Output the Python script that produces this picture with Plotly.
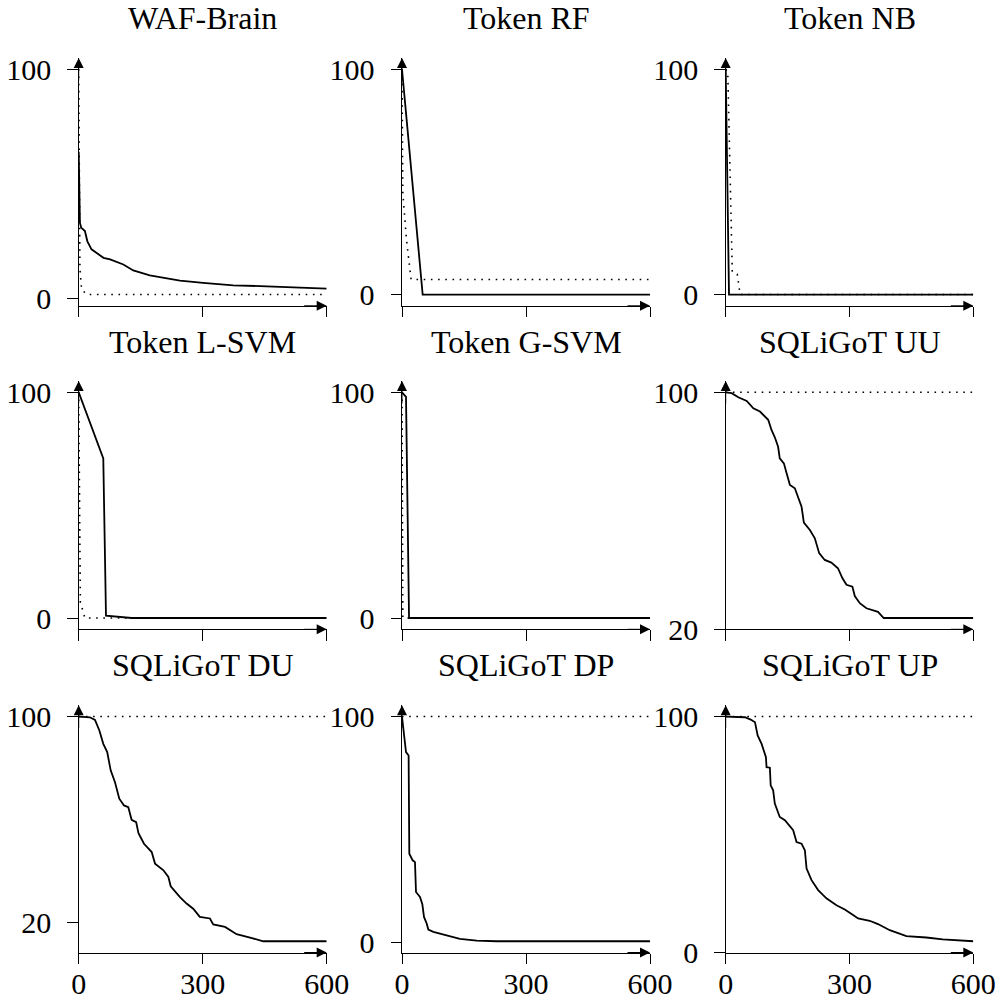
import plotly.graph_objects as go

# ---------------- data ----------------
TITLES = ["WAF-Brain", "Token RF", "Token NB",
          "Token L-SVM", "Token G-SVM", "SQLiGoT UU",
          "SQLiGoT DU", "SQLiGoT DP", "SQLiGoT UP"]

X_TICKS = [0, 300, 600]
X_TICK_TEXT = ["0", "300", "600"]

WAF_SOLID_X = [0, 1, 3, 6, 15, 21, 31, 60, 76, 108, 132, 172, 245, 301, 374, 455, 600]
WAF_SOLID_Y = [64, 42, 33, 31, 29.5, 25, 21.5, 17.8, 17.1, 14.9, 12.3, 10.2, 7.9, 6.9, 5.8, 5.4, 4.4]
WAF_DOT_X = [0, 1, 3, 7, 20, 600]
WAF_DOT_Y = [100, 50, 13, 4, 1.8, 1.8]

RF_SOLID_X = [0, 50, 600]
RF_SOLID_Y = [100, 0, 0]
RF_DOT_X = [0, 2, 11, 22, 600]
RF_DOT_Y = [100, 45, 24, 6.7, 6.7]

NB_SOLID_X = [0, 8, 600]
NB_SOLID_Y = [100, 0, 0]
NB_DOT_X = [0, 5, 16, 28, 35, 600]
NB_DOT_Y = [100, 99, 10, 9, 0, 0]

LSVM_SOLID_X = [0, 59.5, 66, 128, 600]
LSVM_SOLID_Y = [100, 70.7, 1.0, 0, 0]
LSVM_DOT_X = [0, 2, 4, 15, 600]
LSVM_DOT_Y = [100, 20, 7, 0, 0]

GSVM_SOLID_X = [0, 9.7, 17, 600]
GSVM_SOLID_Y = [100, 98, 0, 0]
GSVM_DOT_X = [0, 2, 600]
GSVM_DOT_Y = [100, 0, 0]

UU_SOLID_X = [0, 14.5, 30.5, 51, 67, 83, 103, 111, 119, 127, 131, 141, 147.6, 155.6, 167.6,
              175.6, 183.8, 189.4, 204, 216, 226.5, 240, 256, 272, 283, 292.7, 307, 312.8,
              325, 341, 357, 369, 383, 600]
UU_SOLID_Y = [100, 99.7, 98.3, 97.1, 94.6, 93.5, 90.7, 87.3, 84.8, 81.6, 77.7, 76.0, 72.7, 68.7, 67.6,
              64.8, 61.4, 56.0, 53.5, 50.7, 45.7, 43.4, 42.5, 40.6, 37.2, 35.0, 34.4, 31.2,
              28.8, 27.1, 26.5, 25.9, 23.8, 23.8]
UU_DOT_X = [0, 600]
UU_DOT_Y = [100, 100]

DU_SOLID_X = [0, 27, 39.4, 50, 59.5, 69, 77.4, 87.8, 98.2, 109.6, 120, 128, 139, 144.6, 158,
              176.6, 184.7, 205, 217, 222.6, 245, 261, 277, 293, 317.5, 325.5, 354, 382,
              414.5, 446.6, 600]
DU_SOLID_Y = [100, 99.7, 98.7, 94.6, 89.4, 86.2, 79.1, 74.5, 68.1, 65.5, 64.8, 59.9, 59.0, 54.7, 50.6,
              47.4, 42.9, 40.3, 37.7, 34.1, 29.9, 27.4, 25.4, 22.2, 21.6, 19.3, 18.3, 15.5,
              14.2, 12.75, 12.75]
DU_DOT_X = [0, 600]
DU_DOT_Y = [100, 100]

DP_SOLID_X = [0, 4.8, 9.7, 16, 17.7, 25.8, 31.4, 33.9, 43.5, 49.2, 53.2, 59.7, 63.7, 75.8,
              92, 112, 140, 180.7, 229, 600]
DP_SOLID_Y = [100, 92.4, 84.3, 82.8, 39.4, 36.5, 35.7, 22.5, 20.3, 17.1, 11.5, 8.6, 5.9, 4.9,
              4.1, 3.0, 1.8, 1.05, 0.75, 0.75]
DP_DOT_X = [0, 600]
DP_DOT_Y = [100, 100]

UP_SOLID_X = [0, 46.7, 60.5, 71, 77.4, 87, 97.5, 99, 107, 109, 115, 119, 131, 143.4, 163.5,
              171.7, 183.8, 191.8, 196, 208, 224, 244, 268.5, 288.6, 308.7, 320.8, 349,
              369, 397.6, 417.7, 437.8, 486, 526, 600]
UP_SOLID_Y = [100, 99.7, 98.7, 97.6, 92, 88.4, 82.8, 78.5, 78.3, 70.8, 68.7, 63.1, 57.4, 56.0, 51.8,
              46.8, 46.1, 43.3, 35.5, 30.6, 26.4, 22.9, 20.0, 18.2, 15.8, 14.4, 13.4,
              12.0, 9.4, 8.0, 6.9, 6.3, 5.5, 4.7]
UP_DOT_X = [0, 600]
UP_DOT_Y = [100, 100]

Y_TICKS = [[0, 100], [0, 100], [0, 100],
           [0, 100], [0, 100], [20, 100],
           [20, 100], [0, 100], [0, 100]]

SERIES = [
    (WAF_SOLID_X, WAF_SOLID_Y, WAF_DOT_X, WAF_DOT_Y),
    (RF_SOLID_X, RF_SOLID_Y, RF_DOT_X, RF_DOT_Y),
    (NB_SOLID_X, NB_SOLID_Y, NB_DOT_X, NB_DOT_Y),
    (LSVM_SOLID_X, LSVM_SOLID_Y, LSVM_DOT_X, LSVM_DOT_Y),
    (GSVM_SOLID_X, GSVM_SOLID_Y, GSVM_DOT_X, GSVM_DOT_Y),
    (UU_SOLID_X, UU_SOLID_Y, UU_DOT_X, UU_DOT_Y),
    (DU_SOLID_X, DU_SOLID_Y, DU_DOT_X, DU_DOT_Y),
    (DP_SOLID_X, DP_SOLID_Y, DP_DOT_X, DP_DOT_Y),
    (UP_SOLID_X, UP_SOLID_Y, UP_DOT_X, UP_DOT_Y),
]

# ---------------- layout geometry ----------------
W, H = 1001, 1003
COL_PX = [(78.7, 326.7), (402.0, 650.0), (725.7, 973.3)]
ROW_PX = [(58.0, 305.8), (381.0, 629.3), (705.3, 952.5)]   # (top, bottom)
TITLE_PY = [18, 341.5, 665]

FONT = "Liberation Serif, DejaVu Serif, serif"
TICK_SIZE = 30
TITLE_SIZE = 32

fig = go.Figure()
layout = dict(width=W, height=H, margin=dict(l=0, r=0, t=0, b=0, autoexpand=False),
              paper_bgcolor="white", plot_bgcolor="white", showlegend=False)
annotations = []

for i, (sx, sy, dx, dy) in enumerate(SERIES):
    r, c = divmod(i, 3)
    n = "" if i == 0 else str(i + 1)
    xa, ya = "x" + n, "y" + n
    fig.add_trace(go.Scatter(x=dx, y=dy, mode="lines", xaxis=xa, yaxis=ya,
                             line=dict(color="black", width=1.6, dash="1.6px,5.6px")))
    fig.add_trace(go.Scatter(x=sx, y=sy, mode="lines", xaxis=xa, yaxis=ya,
                             line=dict(color="black", width=1.8)))
    lo = min(min(sy), min(dy))
    hi = max(max(sy), max(dy))
    span = hi - lo
    yrange = [lo - 0.05 * span, hi + 0.05 * span]
    x0, x1 = COL_PX[c]
    top, bot = ROW_PX[r]
    layout["xaxis" + n] = dict(
        domain=[x0 / W, x1 / W], anchor=ya, range=[0, 600], automargin=False,
        showline=True, linecolor="black", linewidth=1,
        ticks="outside", ticklen=10.5, tickwidth=1, tickcolor="black",
        tickvals=X_TICKS, ticktext=X_TICK_TEXT, showticklabels=(r == 2),
        showgrid=False, zeroline=False, ticklabelstandoff=-6,
        tickfont=dict(family=FONT, size=TICK_SIZE, color="black"))
    layout["yaxis" + n] = dict(
        domain=[1 - bot / H, 1 - top / H], anchor=xa, range=yrange, automargin=False,
        showline=True, linecolor="black", linewidth=1,
        ticks="outside", ticklen=10.5, tickwidth=1, tickcolor="black",
        tickvals=Y_TICKS[i], ticktext=[str(v) for v in Y_TICKS[i]],
        showgrid=False, zeroline=False, ticklabelstandoff=10,
        tickfont=dict(family=FONT, size=TICK_SIZE, color="black"))
    # arrow tips of the axes
    annotations.append(dict(xref=xa + " domain", yref=ya + " domain", x=0, y=1,
                            ax=0, ay=24, axref="pixel", ayref="pixel", text="",
                            showarrow=True, arrowhead=2, arrowsize=2, arrowwidth=1,
                            arrowcolor="black"))
    annotations.append(dict(xref=xa + " domain", yref=ya + " domain", x=1, y=0,
                            ax=-24, ay=0, axref="pixel", ayref="pixel", text="",
                            showarrow=True, arrowhead=2, arrowsize=2, arrowwidth=1,
                            arrowcolor="black"))
    annotations.append(dict(xref="paper", yref="paper", x=(x0 + x1) / 2 / W,
                            y=1 - TITLE_PY[r] / H, xanchor="center", yanchor="middle",
                            text=TITLES[i], showarrow=False,
                            font=dict(family=FONT, size=TITLE_SIZE, color="black")))

layout["annotations"] = annotations
fig.update_layout(**layout)
fig.write_html("out.html",
               config={"displayModeBar": False, "staticPlot": True},
               post_script="document.body.style.margin='0px';"
                           "document.body.style.overflow='hidden';")
